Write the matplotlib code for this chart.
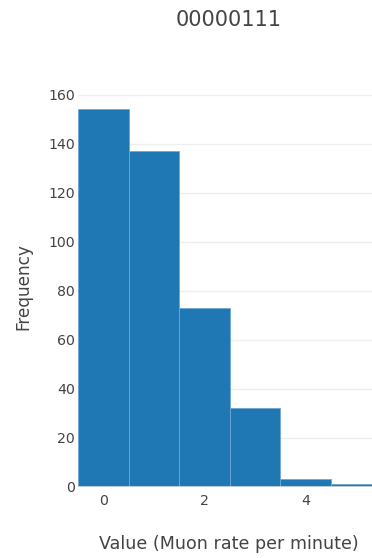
import matplotlib
matplotlib.use("Agg")
import matplotlib.pyplot as plt

# histogram of muon rate, bins of width 1 centred on integers
bin_centers = [0, 1, 2, 3, 4, 5]
counts = [154, 137, 73, 32, 3, 1]
x_ticks = [0, 2, 4]
y_ticks = [0, 20, 40, 60, 80, 100, 120, 140, 160]

plt.rcParams['font.family'] = ['DejaVu Sans']
txt = '#444444'

fig = plt.figure(figsize=(3.72, 5.58), dpi=100)
ax = fig.add_axes([78 / 372, (558 - 486.7) / 558, 1 - 78 / 372, (486.7 - 89.6) / 558])

ax.bar(bin_centers, counts, width=1.0, color='#1f77b4', edgecolor='#6fa6d6',
       linewidth=0.6, zorder=3)

ax.set_xlim(-0.5, 5.31)
ax.set_ylim(0, 162)
ax.set_xticks(x_ticks)
ax.set_yticks(y_ticks)
ax.grid(axis='y', color='#eeeeee', linewidth=1, zorder=0)
ax.axhline(0, color='#dddddd', linewidth=1.2, zorder=4)
for s in ax.spines.values():
    s.set_visible(False)
ax.tick_params(length=0, labelsize=10.2, labelcolor=txt)
ax.tick_params(axis='x', pad=5)
ax.tick_params(axis='y', pad=2)

fig.text(23 / 372, 1 - 287 / 558, 'Frequency', fontsize=12.2, color=txt,
         rotation=90, ha='center', va='center')
fig.text(229 / 372, 1 - 544 / 558, 'Value (Muon rate per minute)', fontsize=12.6,
         color=txt, ha='center', va='center')
fig.text(229 / 372, 1 - 20 / 558, '00000111', fontsize=15, color=txt,
         ha='center', va='center')

fig.savefig('out.png', dpi=100)
